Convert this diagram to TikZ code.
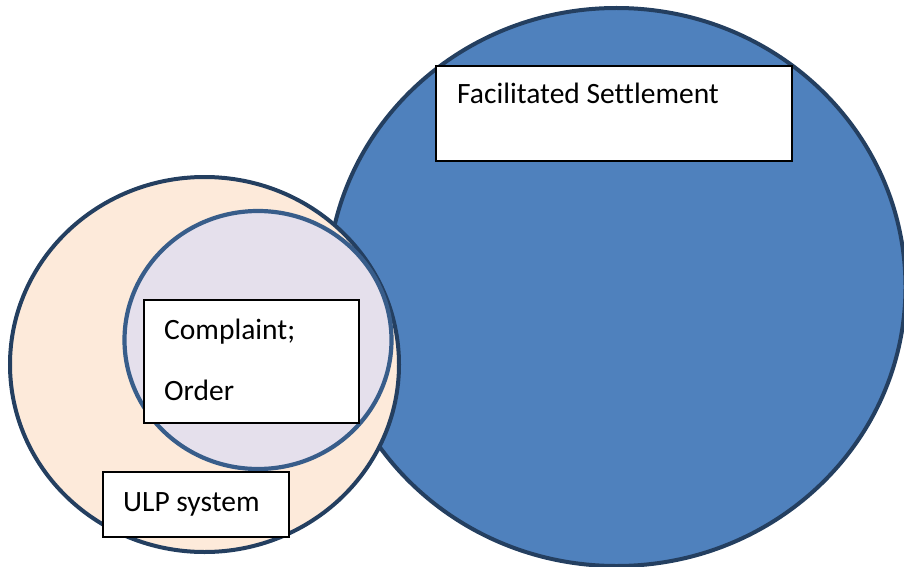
\documentclass[tikz,border=0pt]{standalone}
\usepackage{fontspec}
\setmainfont[Ligatures=NoCommon]{Carlito}
\definecolor{bigfill}{HTML}{4F81BD}
\definecolor{darkedge}{HTML}{243F60}
\definecolor{beigefill}{HTML}{FDEADA}
\definecolor{lavfill}{HTML}{E5E0EC}
\definecolor{lavedge}{HTML}{385D8A}
\tikzset{
  bigcirc/.style={fill=bigfill, draw=darkedge, line width=4pt},
  ulpcirc/.style={fill=beigefill, draw=darkedge, line width=4pt},
  inncirc/.style={fill=lavfill, draw=lavedge, line width=4.2pt},
  labelbox/.style={draw=black, fill=white, line width=1.4pt, rectangle, inner sep=0pt},
  labeltext/.style={anchor=base west, inner sep=0pt, font=\fontsize{29.5}{35}\selectfont}
}
\begin{document}
\begin{tikzpicture}[x=1pt,y=-1pt]
\useasboundingbox (0,0) rectangle (904,567);
% circles
\path[bigcirc] (616.5,287) ellipse [x radius=289, y radius=279];
\path[ulpcirc] (204.5,364.5) ellipse [x radius=194.5, y radius=187.5];
\path[inncirc] (258,340) ellipse [x radius=133.5, y radius=129];
% boxes
\node[labelbox, minimum width=356pt, minimum height=95pt] (fsbox) at (614,113.5) {};
\node[labeltext] (fstext) at (457,103) {Facilitated Settlement};
\node[labelbox, minimum width=215pt, minimum height=123pt] (cobox) at (251.5,361.5) {};
\node[labeltext] (cotext1) at (164,339) {Complaint;};
\node[labeltext] (cotext2) at (164,400) {Order};
\node[labelbox, minimum width=186pt, minimum height=65pt] (ulpbox) at (196,504.5) {};
\node[labeltext] (ulptext) at (123,511) {ULP system};
\end{tikzpicture}
\end{document}
